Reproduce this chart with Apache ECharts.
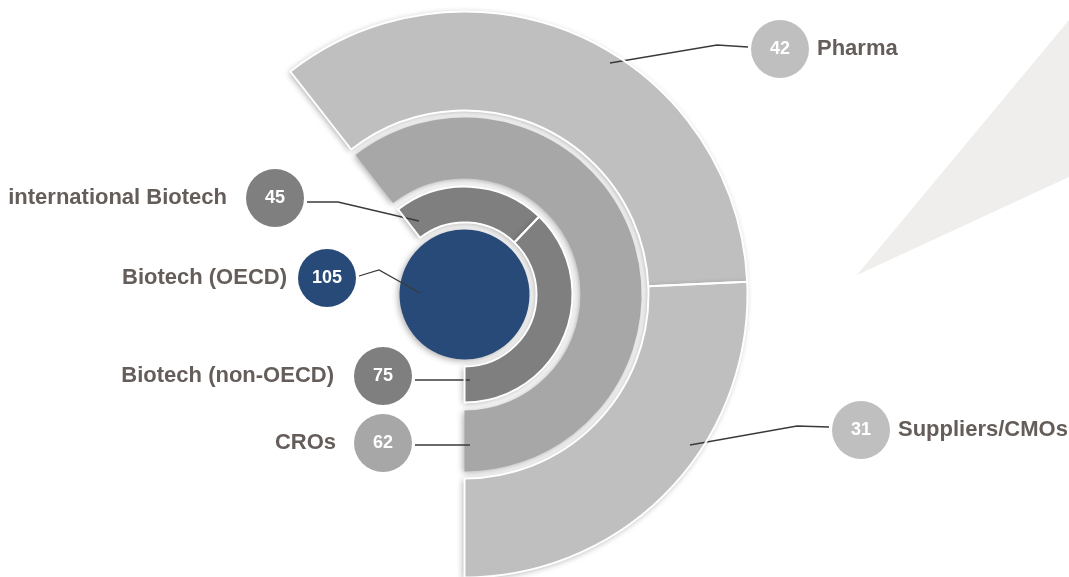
<!DOCTYPE html>
<html>
<head>
<meta charset="utf-8">
<script src="https://cdn.jsdelivr.net/npm/echarts@6/dist/echarts.min.js"></script>
<style>
html,body{margin:0;padding:0;background:#ffffff;}
#c{width:1069px;height:577px;}
</style>
</head>
<body>
<div id="c"></div>
<script>
// ---- data ----
const coreNames = ['Biotech (OECD)'];
const coreValues = [105];
const ring2Names = ['international Biotech', 'Biotech (non-OECD)'];
const ring2Values = [45, 75];
const ring3Names = ['CROs'];
const ring3Values = [62];
const ring4Names = ['Pharma', 'Suppliers/CMOs'];
const ring4Values = [42, 31];

// ---- layout / style ----
const CENTER = [464.5, 294.5];
const START_ANGLE = 128;
const END_ANGLE = -90;
const TEXT_COLOR = '#655d5a';
const FONT = 'Liberation Sans';

// label placement (annotation layout only)
const LABELS = {
  'Pharma':               {x: 751, y: 49,  side: 'right', gap: 8,  line: [[610, 63], [717, 45], [748, 47]]},
  'Suppliers/CMOs':       {x: 832, y: 430, side: 'right', gap: 8,  line: [[690, 445], [797, 426], [829, 427]]},
  'international Biotech':{x: 304, y: 198, side: 'left',  gap: 19, line: [[419, 221], [338, 202], [307, 202]]},
  'Biotech (OECD)':       {x: 356, y: 278, side: 'left',  gap: 11, line: [[420, 293], [379, 270], [359, 276]]},
  'Biotech (non-OECD)':   {x: 412, y: 376, side: 'left',  gap: 20, line: [[470, 380], [440, 380], [415, 380]]},
  'CROs':                 {x: 412, y: 443, side: 'left',  gap: 18, line: [[470, 445], [440, 445], [415, 445]]}
};

function makeLabel(name, value, color) {
  const L = LABELS[name];
  const num = '{num|' + value + '}';
  const nm = '{name|' + name + '}';
  const sp = '{sp|}';
  return {
    show: true,
    position: 'outside',
    formatter: L.side === 'right' ? num + sp + nm : nm + sp + num,
    rich: {
      num: {width: 58, height: 58, lineHeight: 58, borderRadius: 29, backgroundColor: color,
            color: '#ffffff', fontSize: 18, fontWeight: 'bold', align: 'center', fontFamily: FONT},
      sp: {width: L.gap, height: 58, lineHeight: 58},
      name: {fontSize: 22, fontWeight: 'bold', color: TEXT_COLOR, lineHeight: 58, fontFamily: FONT}
    }
  };
}

// visible ring data
function buildData(names, values, color) {
  return names.map((n, i) => ({name: n, value: values[i], itemStyle: {color: color}}));
}
// label-carrying (transparent, white-separated) data, same values so the same angles
function buildLabelData(names, values, color) {
  return names.map((n, i) => ({
    name: n,
    value: values[i],
    label: makeLabel(n, values[i], color)
  }));
}

const rings = [
  {names: ring4Names, values: ring4Values, color: '#bfbfbf', radius: [184, 283], full: false},
  {names: ring3Names, values: ring3Values, color: '#a7a7a7', radius: [116, 177], full: false},
  {names: ring2Names, values: ring2Values, color: '#7f7f7f', radius: [72, 108],  full: false},
  {names: coreNames,  values: coreValues,  color: '#284a78', radius: [0, 65],    full: true}
];

const seriesNames = [];

function labelLayout(p) {
  const name = seriesNames[p.seriesIndex][p.dataIndex];
  const L = LABELS[name];
  return {
    x: L.x,
    y: L.y,
    align: L.side === 'right' ? 'left' : 'right',
    verticalAlign: 'middle',
    labelLinePoints: L.line
  };
}

function pieBase(ring) {
  const s = {
    type: 'pie',
    center: CENTER,
    radius: ring.radius,
    startAngle: START_ANGLE,
    clockwise: true,
    avoidLabelOverlap: false,
    silent: true,
    emphasis: {disabled: true}
  };
  if (!ring.full) s.endAngle = END_ANGLE;
  return s;
}

const series = [];
// visible rings (soft shadow, light from upper right)
rings.forEach(r => {
  const s = pieBase(r);
  s.z = 2;
  s.itemStyle = {borderWidth: 0, shadowBlur: 6, shadowOffsetX: -1.5, shadowOffsetY: 1.5, shadowColor: 'rgba(0,0,0,0.32)'};
  s.label = {show: false};
  s.labelLine = {show: false};
  s.data = buildData(r.names, r.values, r.color);
  seriesNames.push(r.names);
  series.push(s);
});
// overlay: white segment separators + labels
rings.forEach(r => {
  const s = pieBase(r);
  s.z = 5;
  s.itemStyle = {color: 'rgba(0,0,0,0)', borderColor: '#ffffff', borderWidth: r.names.length > 1 ? 2 : 0};
  s.labelLine = {show: true, smooth: false, lineStyle: {color: '#3a3a3a', width: 1.3}};
  s.labelLayout = labelLayout;
  s.data = buildLabelData(r.names, r.values, r.color);
  seriesNames.push(r.names);
  series.push(s);
});

const chart = echarts.init(document.getElementById('c'), null, {renderer: 'canvas'});
chart.setOption({
  animation: false,
  backgroundColor: '#ffffff',
  graphic: [{
    type: 'polygon',
    z: -10,
    silent: true,
    shape: {points: [[857, 275], [1069, 20], [1069, 177]]},
    style: {fill: '#efeeec'}
  }],
  series: series
});
</script>
</body>
</html>
